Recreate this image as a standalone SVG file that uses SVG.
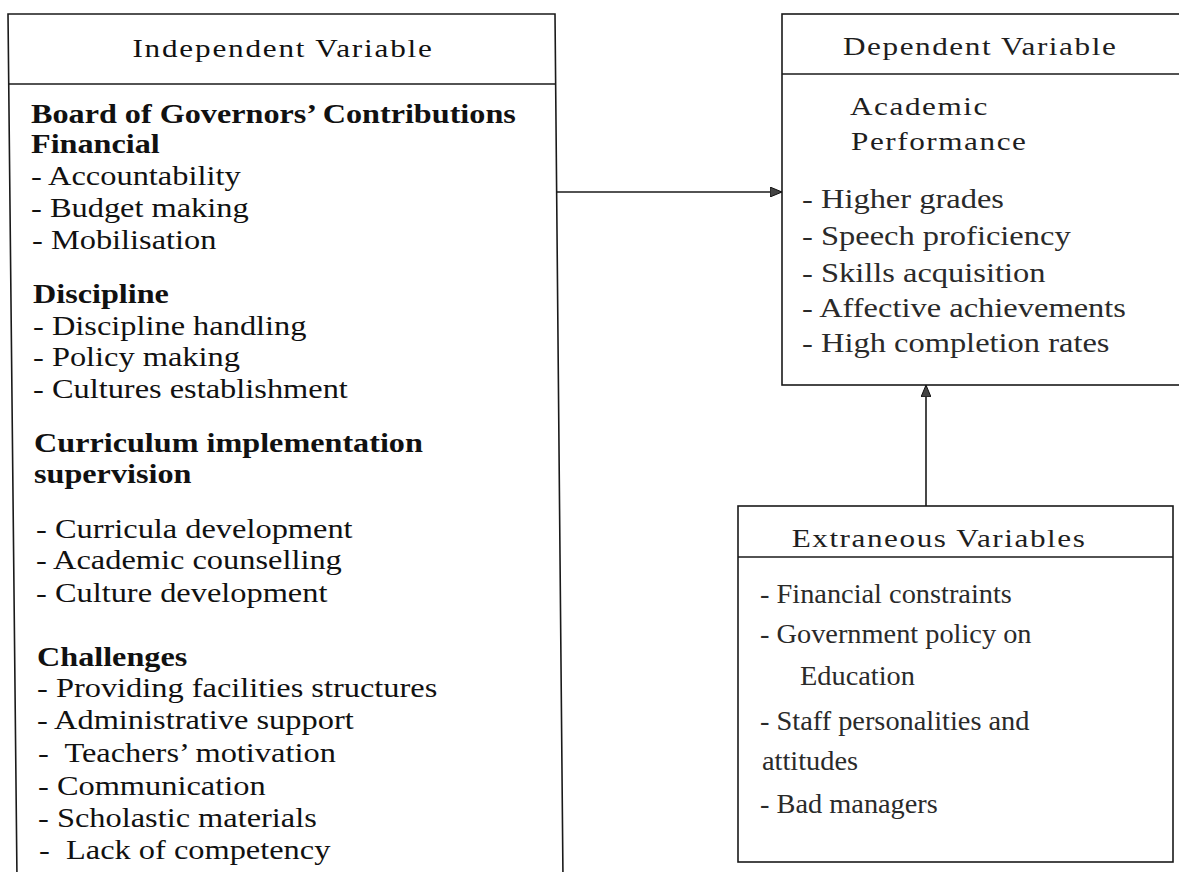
<svg xmlns="http://www.w3.org/2000/svg" width="1179" height="872" viewBox="0 0 1179 872">
  <defs>
    <marker id="head" viewBox="0 0 12 10" refX="11" refY="5" markerWidth="12" markerHeight="10" markerUnits="userSpaceOnUse" orient="auto">
      <path d="M0,0 L12,5 L0,10 Z" fill="#444" stroke="#111" stroke-width="1"/>
    </marker>
  </defs>
  <style>
    .box { fill: #ffffff; stroke: #1a1a1a; stroke-width: 1.6; }
    .rule { stroke: #1a1a1a; stroke-width: 1.6; }
    .link { stroke: #1a1a1a; stroke-width: 1.6; fill: none; }
    text { font-family: "Liberation Serif", "Times New Roman", serif; white-space: pre; }
    .title { font-size: 26px; fill: #111; letter-spacing: 1.5px; }
    .head { font-size: 28px; font-weight: bold; fill: #111; }
    .item { font-size: 27px; fill: #111; }
    .soft { font-size: 28px; fill: #2a2a2a; }
    .ext { font-size: 27px; fill: #2a2a2a; }
    .softhead { font-size: 26px; fill: #1e1e1e; letter-spacing: 1.3px; }
  </style>
  <rect width="1179" height="872" fill="#ffffff"/>

  <!-- Independent variable panel (runs past the bottom edge) -->
  <g id="independent">
    <polygon class="box" points="8,14 555,14 563,880 17,880"/>
    <line class="rule" x1="9" y1="84" x2="556" y2="84"/>
    <text class="title" transform="matrix(1.2 0 0 1 283 57)" text-anchor="middle">Independent Variable</text>
    <text class="head" transform="matrix(1.15 0 0 1 31 123)">Board of Governors’ Contributions</text>
    <text class="head" transform="matrix(1.15 0 0 1 31 153)">Financial</text>
    <text class="item" transform="matrix(1.2 0 0 1 31 185)">- Accountability</text>
    <text class="item" transform="matrix(1.2 0 0 1 31 217)">- Budget making</text>
    <text class="item" transform="matrix(1.2 0 0 1 32 249)">- Mobilisation</text>
    <text class="head" transform="matrix(1.15 0 0 1 33 303)">Discipline</text>
    <text class="item" transform="matrix(1.2 0 0 1 33 335)">- Discipline handling</text>
    <text class="item" transform="matrix(1.2 0 0 1 33 366)">- Policy making</text>
    <text class="item" transform="matrix(1.2 0 0 1 33 398)">- Cultures establishment</text>
    <text class="head" transform="matrix(1.15 0 0 1 34 452)">Curriculum implementation</text>
    <text class="head" transform="matrix(1.15 0 0 1 34 483)">supervision</text>
    <text class="item" transform="matrix(1.2 0 0 1 36 538)">- Curricula development</text>
    <text class="item" transform="matrix(1.2 0 0 1 36 569)">- Academic counselling</text>
    <text class="item" transform="matrix(1.2 0 0 1 36 602)">- Culture development</text>
    <text class="head" transform="matrix(1.15 0 0 1 37 666)">Challenges</text>
    <text class="item" transform="matrix(1.2 0 0 1 37 697)">- Providing facilities structures</text>
    <text class="item" transform="matrix(1.2 0 0 1 37 729)">- Administrative support</text>
    <text class="item" transform="matrix(1.2 0 0 1 38 762)">-  Teachers’ motivation</text>
    <text class="item" transform="matrix(1.2 0 0 1 38 795)">- Communication</text>
    <text class="item" transform="matrix(1.2 0 0 1 38 827)">- Scholastic materials</text>
    <text class="item" transform="matrix(1.2 0 0 1 39 859)">-  Lack of competency</text>
  </g>

  <!-- Dependent variable panel (runs past the right edge) -->
  <g id="dependent">
    <rect class="box" x="782" y="14" width="420" height="371"/>
    <line class="rule" x1="782" y1="74" x2="1179" y2="74"/>
    <text class="softhead" transform="matrix(1.2 0 0 1 843 55)">Dependent Variable</text>
    <text class="softhead" transform="matrix(1.2 0 0 1 850 115)">Academic</text>
    <text class="softhead" transform="matrix(1.2 0 0 1 851 150)">Performance</text>
    <text class="soft" transform="matrix(1.16 0 0 1 802 208)">- Higher grades</text>
    <text class="soft" transform="matrix(1.16 0 0 1 802 245)">- Speech proficiency</text>
    <text class="soft" transform="matrix(1.16 0 0 1 802 282)">- Skills acquisition</text>
    <text class="soft" transform="matrix(1.16 0 0 1 802 317)">- Affective achievements</text>
    <text class="soft" transform="matrix(1.16 0 0 1 802 352)">- High completion rates</text>
  </g>

  <!-- Extraneous variables panel -->
  <g id="extraneous">
    <rect class="box" x="738" y="506" width="435" height="356"/>
    <line class="rule" x1="738" y1="557" x2="1173" y2="557"/>
    <text class="softhead" transform="matrix(1.2 0 0 1 939 547)" text-anchor="middle">Extraneous Variables</text>
    <text class="ext" transform="matrix(1.05 0 0 1 760 603)">- Financial constraints</text>
    <text class="ext" transform="matrix(1.05 0 0 1 760 643)">- Government policy on</text>
    <text class="ext" transform="matrix(1.05 0 0 1 800 685)">Education</text>
    <text class="ext" transform="matrix(1.05 0 0 1 760 730)">- Staff personalities and</text>
    <text class="ext" transform="matrix(1.05 0 0 1 762 770)">attitudes</text>
    <text class="ext" transform="matrix(1.05 0 0 1 760 813)">- Bad managers</text>
  </g>

  <!-- Connectors -->
  <g id="connectors">
    <line class="link" x1="556" y1="192" x2="781" y2="192" marker-end="url(#head)"/>
    <line class="link" x1="926" y1="506" x2="926" y2="386" marker-end="url(#head)"/>
  </g>
</svg>
